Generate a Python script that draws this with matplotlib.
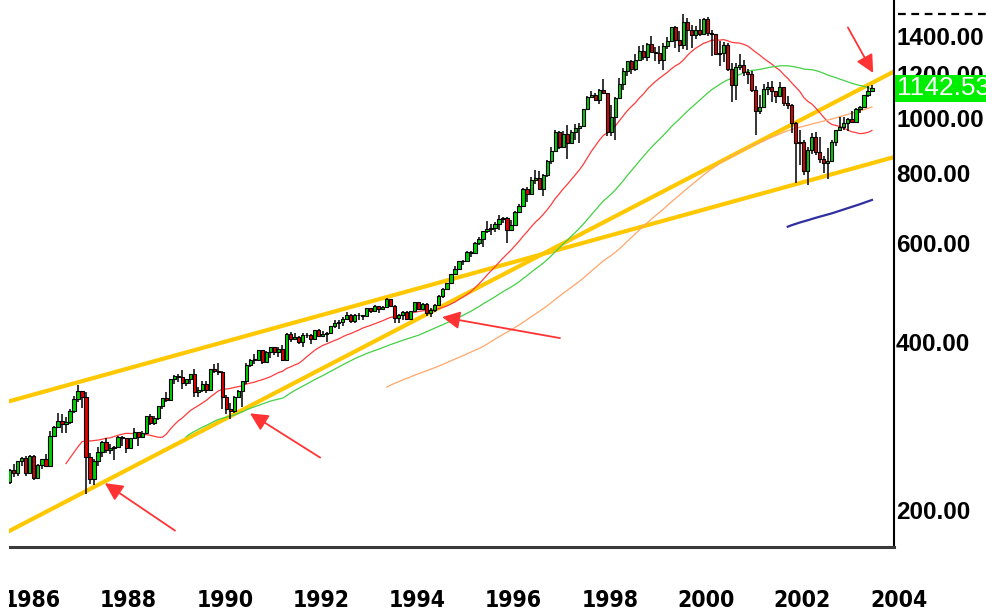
import numpy as np
import pandas as pd
import matplotlib
matplotlib.use('Agg')
import matplotlib.pyplot as plt
import matplotlib.transforms as mtransforms
from matplotlib.patches import Rectangle
from matplotlib import font_manager
from matplotlib.ticker import NullLocator

# monthly S&P 500 candles, Oct 1985 .. Feb 2004 (last one still open)
first_month = '1985-10'
first_open = 182.08

closes = [189.82, 202.17, 211.28,
          211.78, 226.92, 238.90, 235.52, 247.35, 250.84, 236.12, 252.93, 231.32, 243.98, 249.22, 242.17,
          274.08, 284.20, 291.70, 288.36, 290.10, 304.00, 318.66, 329.80, 321.83, 251.79, 230.30, 247.08,
          257.07, 267.82, 258.89, 261.33, 262.16, 273.50, 272.02, 261.52, 271.91, 278.97, 273.70, 277.72,
          297.47, 288.86, 294.87, 309.64, 320.52, 317.98, 346.08, 351.45, 349.15, 340.36, 345.99, 353.40,
          329.08, 331.89, 339.94, 330.80, 361.23, 358.02, 356.15, 322.56, 306.05, 303.99, 322.22, 330.22,
          343.93, 367.07, 375.22, 375.35, 389.83, 371.16, 387.81, 395.43, 387.86, 392.45, 375.22, 417.09,
          408.79, 412.70, 403.69, 414.95, 415.35, 408.14, 424.21, 414.03, 417.80, 418.68, 431.35, 435.71,
          438.78, 443.38, 451.67, 440.19, 450.19, 450.53, 448.13, 463.56, 458.93, 467.83, 461.79, 466.45,
          481.61, 467.14, 445.77, 450.91, 456.50, 444.27, 458.26, 475.49, 462.69, 472.35, 453.69, 459.27,
          470.42, 487.39, 500.71, 514.71, 533.40, 544.75, 562.06, 561.88, 584.41, 581.50, 605.37, 615.93,
          636.02, 640.43, 645.50, 654.17, 669.12, 670.63, 639.95, 651.99, 687.33, 705.27, 757.02, 740.74,
          786.16, 790.82, 757.12, 801.34, 848.28, 885.14, 954.29, 899.47, 947.28, 914.62, 955.40, 970.43,
          980.28, 1049.34, 1101.75, 1111.75, 1090.82, 1133.84, 1120.67, 957.28, 1017.01, 1098.67, 1163.63, 1229.23,
          1279.64, 1238.33, 1286.37, 1335.18, 1301.84, 1372.71, 1328.72, 1320.41, 1282.71, 1362.93, 1388.91, 1469.25,
          1394.46, 1366.42, 1498.58, 1452.43, 1420.60, 1454.60, 1430.83, 1517.68, 1436.51, 1429.40, 1314.95, 1320.28,
          1366.01, 1239.94, 1160.33, 1249.46, 1255.82, 1224.42, 1211.23, 1133.58, 1040.94, 1059.78, 1139.45, 1148.08,
          1130.20, 1106.73, 1147.39, 1076.92, 1067.14, 989.82, 911.62, 916.07, 815.28, 885.76, 936.31, 879.82,
          855.70, 841.15, 848.18, 916.92, 963.59, 974.50, 990.31, 1008.01, 995.97, 1050.71, 1058.20, 1111.92,
          1131.13, 1142.53]

highs = [191.0, 202.9, 212.0,
         213.0, 227.0, 240.0, 245.0, 248.0, 251.8, 253.0, 254.2, 254.0, 244.5, 250.0, 254.9,
         280.0, 285.5, 301.9, 300.0, 296.0, 306.0, 323.0, 337.9, 330.0, 328.0, 256.0, 250.0,
         262.0, 268.5, 272.0, 265.0, 263.0, 274.0, 274.0, 272.0, 272.0, 283.7, 279.0, 280.0,
         298.0, 300.0, 298.0, 310.0, 321.0, 328.0, 347.0, 353.0, 354.0, 360.0, 346.5, 353.5,
         360.6, 336.0, 344.0, 344.0, 361.5, 368.0, 369.8, 358.0, 324.0, 314.0, 323.0, 331.0,
         344.0, 370.0, 376.0, 384.0, 390.0, 389.0, 389.0, 396.0, 396.0, 395.0, 399.0, 418.0,
         420.8, 418.0, 414.0, 418.0, 418.0, 417.0, 424.5, 425.0, 422.0, 420.0, 431.5, 441.0,
         442.0, 448.0, 456.0, 452.0, 453.0, 454.0, 451.0, 464.0, 464.0, 470.0, 468.0, 468.0,
         482.8, 482.0, 469.0, 453.0, 459.0, 459.0, 459.0, 476.0, 474.0, 474.0, 473.0, 463.0,
         472.0, 489.0, 503.0, 515.0, 534.0, 551.0, 563.0, 565.0, 587.0, 587.0, 608.0, 622.0,
         637.0, 664.0, 656.0, 660.0, 679.0, 673.0, 675.0, 666.0, 690.0, 710.0, 758.0, 762.0,
         794.0, 817.0, 814.0, 805.0, 851.0, 898.0, 962.0, 961.0, 960.0, 983.0, 964.0, 986.0,
         992.0, 1050.0, 1106.0, 1131.0, 1122.0, 1139.0, 1190.0, 1121.0, 1066.0, 1103.0, 1192.0, 1244.0,
         1280.0, 1283.0, 1317.0, 1362.0, 1368.0, 1376.0, 1420.0, 1353.0, 1361.0, 1375.0, 1410.0, 1473.0,
         1478.0, 1445.0, 1552.9, 1527.0, 1481.5, 1474.6, 1517.0, 1525.0, 1530.1, 1454.8, 1431.8, 1389.1,
         1383.4, 1376.4, 1267.4, 1269.3, 1315.9, 1286.6, 1239.8, 1226.3, 1155.4, 1110.6, 1163.4, 1173.0,
         1176.5, 1130.2, 1173.9, 1147.8, 1106.6, 1070.7, 994.5, 965.0, 924.0, 900.1, 951.6, 954.3,
         935.0, 864.6, 895.9, 924.2, 965.4, 1015.4, 1015.4, 1011.0, 1040.3, 1053.8, 1063.7, 1112.0,
         1155.4, 1159.0]

lows = [181.0, 189.4, 200.0,
        203.5, 211.0, 225.5, 232.0, 232.5, 243.0, 233.0, 234.5, 228.7, 231.0, 240.0, 241.5,
        242.0, 273.0, 283.0, 278.2, 278.0, 288.0, 302.0, 316.0, 308.0, 216.5, 225.0, 223.9,
        242.6, 252.0, 256.0, 255.0, 248.9, 261.0, 263.0, 256.0, 261.0, 271.0, 263.0, 272.0,
        276.0, 287.0, 287.0, 293.0, 306.0, 316.0, 317.0, 340.0, 343.0, 332.0, 337.0, 339.0,
        321.4, 322.0, 329.0, 327.0, 330.0, 355.0, 353.0, 306.0, 300.0, 294.5, 301.0, 321.0,
        309.0, 340.0, 364.0, 369.0, 374.0, 368.5, 371.0, 378.0, 383.0, 379.0, 373.0, 373.0,
        403.0, 407.0, 401.0, 394.5, 410.0, 401.0, 408.0, 412.0, 412.0, 402.7, 417.0, 428.0,
        425.0, 431.0, 441.0, 437.0, 436.0, 442.0, 441.0, 447.0, 455.0, 458.0, 454.0, 460.0,
        464.0, 465.0, 436.0, 435.9, 442.0, 442.0, 443.0, 457.0, 461.0, 460.0, 449.0, 448.0,
        457.0, 469.0, 484.0, 500.0, 511.0, 531.0, 542.0, 553.0, 560.0, 573.0, 579.0, 601.0,
        597.0, 631.0, 627.0, 634.0, 639.0, 658.0, 605.9, 639.0, 649.0, 686.0, 703.0, 716.0,
        737.0, 773.0, 755.0, 733.5, 793.0, 837.0, 884.0, 893.0, 895.0, 855.0, 913.0, 925.0,
        912.8, 980.0, 1046.0, 1098.0, 1088.0, 1074.0, 1119.0, 939.9, 939.0, 923.3, 1098.0, 1136.0,
        1205.0, 1212.0, 1226.0, 1282.0, 1282.0, 1281.0, 1328.0, 1281.0, 1263.0, 1233.7, 1342.0, 1387.0,
        1350.0, 1325.0, 1346.0, 1339.4, 1348.0, 1398.0, 1416.0, 1428.0, 1419.0, 1305.8, 1312.0, 1254.1,
        1274.6, 1228.3, 1081.2, 1091.9, 1232.0, 1203.0, 1165.5, 1124.9, 944.8, 1026.8, 1054.3, 1114.5,
        1081.7, 1074.4, 1106.7, 1063.5, 1048.9, 952.9, 775.7, 833.4, 800.2, 768.6, 872.1, 869.5,
        840.3, 806.3, 788.9, 847.9, 902.8, 963.2, 962.1, 960.8, 990.4, 995.9, 1031.2, 1053.4,
        1105.1, 1124.4]

ma_periods = [20, 50, 100, 200]
ma_colors = ['#ff3b3b', '#45d045', '#ffa66a', '#2f2fa0']
ma_widths = [0.9, 0.9, 0.9, 1.6]

# hand drawn trend lines, end points as (month index, price)
upper_line_x = [2.5, 225.5]
upper_line_y = [313.0, 862.0]
lower_line_x = [2.5, 225.5]
lower_line_y = [182.0, 1225.0]

# red arrows: tail -> tip
arrow_tail_x = [46.2, 82.4, 142.2, 214.0]
arrow_tail_y = [186.0, 251.0, 410.0, 1468.0]
arrow_tip_x = [28.7, 64.9, 112.8, 220.3]
arrow_tip_y = [226.0, 301.0, 447.0, 1218.0]

price_ticks = [200, 400, 600, 800, 1000, 1200, 1400]
last_price = closes[-1]

# a narrow bold face for the years if one is installed
year_fp = None
for f in font_manager.fontManager.ttflist:
    nm = f.name + ' ' + str(f.stretch)
    if ('Narrow' in nm or 'ondensed' in nm) and f.weight in ('bold', 700, 'semibold', 600):
        year_fp = font_manager.FontProperties(fname=f.fname, size=16.5)
        break
if year_fp is None:
    year_fp = font_manager.FontProperties(family='Liberation Sans', weight='bold', size=15)

n = len(closes)
idx = np.arange(n)
months = pd.period_range(first_month, periods=n, freq='M')
opens = np.array([first_open] + closes[:-1])
c = np.array(closes)
h = np.array(highs)
l = np.array(lows)

W, H = 987, 611
fig = plt.figure(figsize=(W / 100, H / 100), dpi=100)
fig.patch.set_facecolor('white')
ax = fig.add_axes([0, 64 / H, 894 / W, 547 / H])
ax.set_yscale('log')
ax.set_xlim(2.55, 225.5)
ax.set_ylim(173.9, 1643)

# trend lines
ax.plot(upper_line_x, upper_line_y, color='#ffc800', lw=3.0, zorder=1, solid_capstyle='butt')
ax.plot(lower_line_x, lower_line_y, color='#ffc800', lw=3.0, zorder=1, solid_capstyle='butt')

# moving averages
s = pd.Series(c)
for p, col, w in zip(ma_periods, ma_colors, ma_widths):
    ax.plot(idx, s.rolling(p).mean(), color=col, lw=w, zorder=2)

# candles
ax.vlines(idx, l, h, color='black', lw=1.1, zorder=3)
up = c >= opens
body_lo = np.minimum(opens, c)
body_h = np.maximum(np.abs(c - opens), 0.6)
ax.bar(idx[up], body_h[up], bottom=body_lo[up], width=0.8, color='#00d000',
       edgecolor='black', linewidth=0.8, zorder=4)
ax.bar(idx[~up], body_h[~up], bottom=body_lo[~up], width=0.8, color='#e00000',
       edgecolor='black', linewidth=0.8, zorder=4)

# arrows
for tx, ty, hx, hy in zip(arrow_tail_x, arrow_tail_y, arrow_tip_x, arrow_tip_y):
    ax.annotate('', xy=(hx, hy), xytext=(tx, ty),
                arrowprops=dict(arrowstyle='-|>,head_length=0.9,head_width=0.45',
                                color='#ff3333', lw=1.3, mutation_scale=12,
                                shrinkA=0, shrinkB=0), zorder=5)

# price axis on the right
ax.yaxis.tick_right()
ax.set_yticks(price_ticks)
ax.set_yticklabels(['%.2f' % p for p in price_ticks])
ax.yaxis.set_minor_locator(NullLocator())
ax.tick_params(axis='y', length=0, pad=1.5)
for lbl in ax.get_yticklabels():
    lbl.set_fontfamily('Liberation Sans')
    lbl.set_fontweight('bold')
    lbl.set_fontsize(17.5)
    lbl.set_verticalalignment('center')

tr = mtransforms.blended_transform_factory(ax.transAxes, ax.transData)
# dashed marker of the all-time high in the price column
ax.plot([1.004, 1.12], [max(highs), max(highs)], transform=tr, color='black', lw=1.6,
        ls=(0, (3.5, 2.5)), clip_on=False, zorder=6)

# current price box
ax.text(1.003, last_price, '%.2f' % last_price, transform=tr, ha='left', va='center',
        fontsize=19, family='Liberation Sans', color='white', clip_on=False, zorder=10,
        bbox=dict(boxstyle='square,pad=0.06', fc='#00ee00', ec='none'))

# year labels at the january candles
jan = [i for i, m in enumerate(months) if m.month == 1 and m.year % 2 == 0]
ax.set_xticks(idx[jan] + 0.5)
ax.set_xticklabels([str(months[i].year) for i in jan], ha='left')
ax.tick_params(axis='x', length=0, pad=30)
for lbl in ax.get_xticklabels():
    lbl.set_fontproperties(year_fp)

ax.spines['left'].set_visible(False)
ax.spines['top'].set_visible(False)
ax.spines['right'].set_color('black')
ax.spines['right'].set_linewidth(1.5)
ax.spines['bottom'].set_color('#3a3a3a')
ax.spines['bottom'].set_linewidth(2.2)

# the screenshot is cut a few pixels into the plot on the left
fig.add_artist(Rectangle((0, 0), 9 / W, 1, transform=fig.transFigure,
                         fc='white', ec='none', zorder=20))

fig.savefig('out.png', dpi=100)
